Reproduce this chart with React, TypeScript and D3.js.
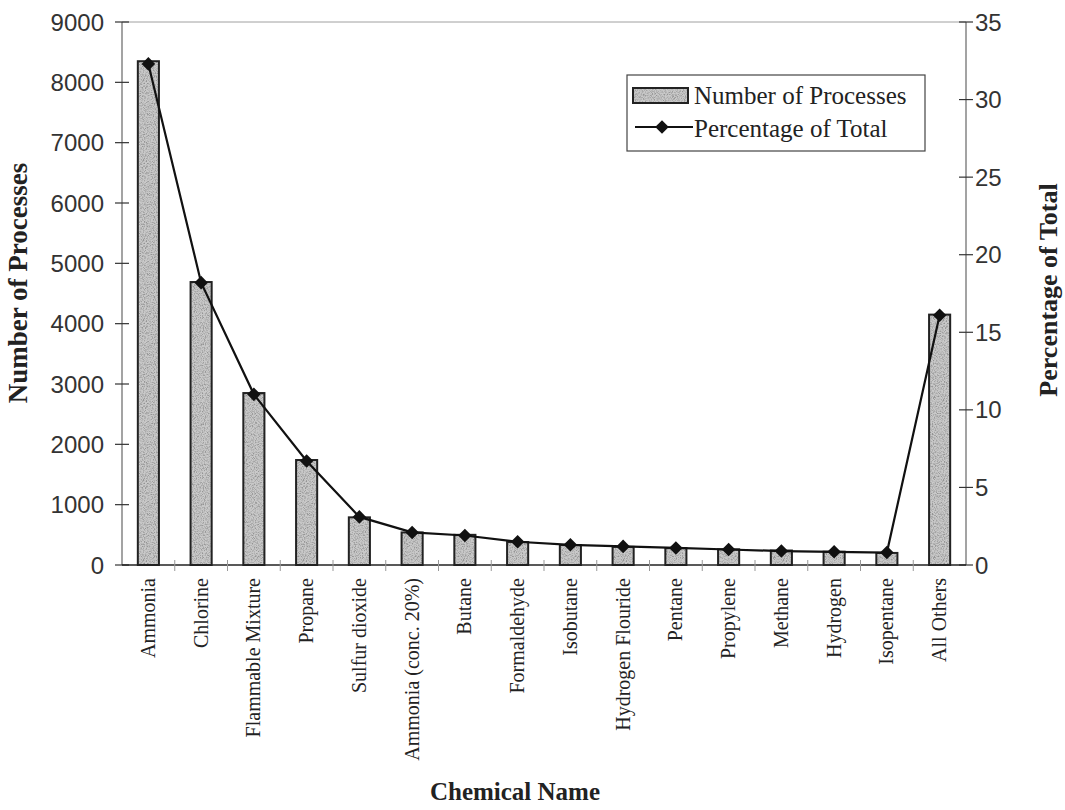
import React from "react";
import * as d3 from "d3";

// Chemicals ranked by number of registered processes, with "All Others" last
const chemicals: string[] = [
  "Ammonia",
  "Chlorine",
  "Flammable Mixture",
  "Propane",
  "Sulfur dioxide",
  "Ammonia (conc. 20%)",
  "Butane",
  "Formaldehyde",
  "Isobutane",
  "Hydrogen Flouride",
  "Pentane",
  "Propylene",
  "Methane",
  "Hydrogen",
  "Isopentane",
  "All Others",
];

// Number of processes per chemical (left axis)
const processCounts: number[] = [
  8350, 4690, 2850, 1740, 790, 540, 500, 380, 330, 300, 280, 260, 240, 220, 200, 4150,
];

// Share of all processes, in percent (right axis)
const percentOfTotal: number[] = [
  32.3, 18.2, 11.0, 6.7, 3.1, 2.1, 1.9, 1.5, 1.3, 1.2, 1.1, 1.0, 0.9, 0.85, 0.8, 16.1,
];

const leftTicks: number[] = [0, 1000, 2000, 3000, 4000, 5000, 6000, 7000, 8000, 9000];
const rightTicks: number[] = [0, 5, 10, 15, 20, 25, 30, 35];

const W = 1065;
const H = 810;
const plot = { left: 122, right: 966, top: 22, bottom: 565 };

const sansFont = "'Liberation Sans', Arial, sans-serif";
const serifFont = "'Liberation Serif', 'Times New Roman', serif";

export default function App() {
  const x = d3
    .scaleBand<string>()
    .domain(chemicals)
    .range([plot.left, plot.right])
    .paddingInner(0.6)
    .paddingOuter(0.3);
  const yLeft = d3.scaleLinear().domain([0, 9000]).range([plot.bottom, plot.top]);
  const yRight = d3.scaleLinear().domain([0, 35]).range([plot.bottom, plot.top]);

  const cx = (c: string) => (x(c) as number) + x.bandwidth() / 2;
  const step = x.step();

  const pctPoints: [number, number][] = chemicals.map((c, i) => [cx(c), yRight(percentOfTotal[i])]);
  const linePath = d3.line()(pctPoints) || "";
  const diamond = d3.symbol().type(d3.symbolSquare).size(92)() || "";

  // category separator ticks at band boundaries
  const boundaries = d3.range(1, chemicals.length).map((i) => plot.left + step * i);

  const legend = { x: 627, y: 75, w: 298, h: 76 };

  return (
    <svg
      width={W}
      height={H}
      viewBox={`0 0 ${W} ${H}`}
      style={{ position: "absolute", left: 0, top: 0, background: "#fff" }}
    >
      <defs>
        <filter id="grain" x="0" y="0" width="100%" height="100%">
          <feTurbulence type="fractalNoise" baseFrequency="0.9" numOctaves="2" seed="7" result="t" />
          <feColorMatrix
            in="t"
            type="matrix"
            values="0 0 0 0 0.3  0 0 0 0 0.3  0 0 0 0 0.3  3.0 0 0 0 -1.25"
            result="dots"
          />
          <feComposite in="dots" in2="SourceGraphic" operator="over" />
        </filter>
        <pattern id="speckle" width="80" height="80" patternUnits="userSpaceOnUse">
          <rect width="80" height="80" fill="#c9c9c9" filter="url(#grain)" />
        </pattern>
      </defs>

      {/* top frame */}
      <line x1={plot.left} x2={plot.right} y1={plot.top} y2={plot.top} stroke="#a0a0a0" strokeWidth={1} />

      {/* bars */}
      {chemicals.map((c, i) => (
        <rect
          key={c}
          x={x(c)}
          y={yLeft(processCounts[i])}
          width={x.bandwidth()}
          height={plot.bottom - yLeft(processCounts[i])}
          fill="url(#speckle)"
          stroke="#222"
          strokeWidth={2}
        />
      ))}

      {/* left axis */}
      <line x1={plot.left} x2={plot.left} y1={plot.top} y2={plot.bottom} stroke="#666" strokeWidth={1.2} />
      {leftTicks.map((t) => (
        <g key={`l${t}`}>
          <line x1={plot.left - 7} x2={plot.left + 7} y1={yLeft(t)} y2={yLeft(t)} stroke="#333" strokeWidth={1.2} />
          <text
            x={plot.left - 18}
            y={yLeft(t)}
            dy="0.36em"
            textAnchor="end"
            fontFamily={sansFont}
            fontSize={24}
            fill="#333"
          >
            {t}
          </text>
        </g>
      ))}

      {/* right axis */}
      <line x1={plot.right} x2={plot.right} y1={plot.top} y2={plot.bottom} stroke="#666" strokeWidth={1.2} />
      {rightTicks.map((t) => (
        <g key={`r${t}`}>
          <line x1={plot.right - 7} x2={plot.right + 7} y1={yRight(t)} y2={yRight(t)} stroke="#333" strokeWidth={1.2} />
          <text
            x={plot.right + 9}
            y={yRight(t)}
            dy="0.36em"
            textAnchor="start"
            fontFamily={sansFont}
            fontSize={24}
            fill="#333"
          >
            {t}
          </text>
        </g>
      ))}

      {/* category axis */}
      <line x1={plot.left} x2={plot.right} y1={plot.bottom} y2={plot.bottom} stroke="#222" strokeWidth={1.6} />
      {boundaries.map((b, i) => (
        <line key={`b${i}`} x1={b} x2={b} y1={plot.bottom - 5} y2={plot.bottom + 6} stroke="#999" strokeWidth={1} />
      ))}
      {chemicals.map((c) => (
        <text
          key={`t${c}`}
          transform={`translate(${cx(c)},${plot.bottom + 13}) rotate(-90)`}
          dy="0.33em"
          textAnchor="end"
          fontFamily={serifFont}
          fontSize={20}
          fill="#222"
        >
          {c}
        </text>
      ))}

      {/* percentage line */}
      <path d={linePath} fill="none" stroke="#111" strokeWidth={2.2} />
      {pctPoints.map(([px, py], i) => (
        <path key={`d${i}`} d={diamond} transform={`translate(${px},${py}) rotate(45)`} fill="#111" />
      ))}

      {/* axis titles */}
      <text
        transform={`translate(27,283) rotate(-90)`}
        textAnchor="middle"
        fontFamily={serifFont}
        fontWeight="bold"
        fontSize={27}
        fill="#222"
      >
        Number of Processes
      </text>
      <text
        transform={`translate(1057,290) rotate(-90)`}
        textAnchor="middle"
        fontFamily={serifFont}
        fontWeight="bold"
        fontSize={26}
        fill="#222"
      >
        Percentage of Total
      </text>
      <text x={515} y={800} textAnchor="middle" fontFamily={serifFont} fontWeight="bold" fontSize={25} fill="#222">
        Chemical Name
      </text>

      {/* legend */}
      <rect x={legend.x} y={legend.y} width={legend.w} height={legend.h} fill="#fff" stroke="#444" strokeWidth={1.2} />
      <rect x={legend.x + 6} y={legend.y + 13} width={55} height={15} fill="url(#speckle)" stroke="#222" strokeWidth={2} />
      <text x={legend.x + 67} y={legend.y + 29} fontFamily={serifFont} fontSize={25} fill="#222">
        Number of Processes
      </text>
      <line x1={legend.x + 8} x2={legend.x + 66} y1={legend.y + 52} y2={legend.y + 52} stroke="#111" strokeWidth={2.2} />
      <path d={diamond} transform={`translate(${legend.x + 35},${legend.y + 52}) rotate(45)`} fill="#111" />
      <text x={legend.x + 67} y={legend.y + 62} fontFamily={serifFont} fontSize={25} fill="#222">
        Percentage of Total
      </text>
    </svg>
  );
}
